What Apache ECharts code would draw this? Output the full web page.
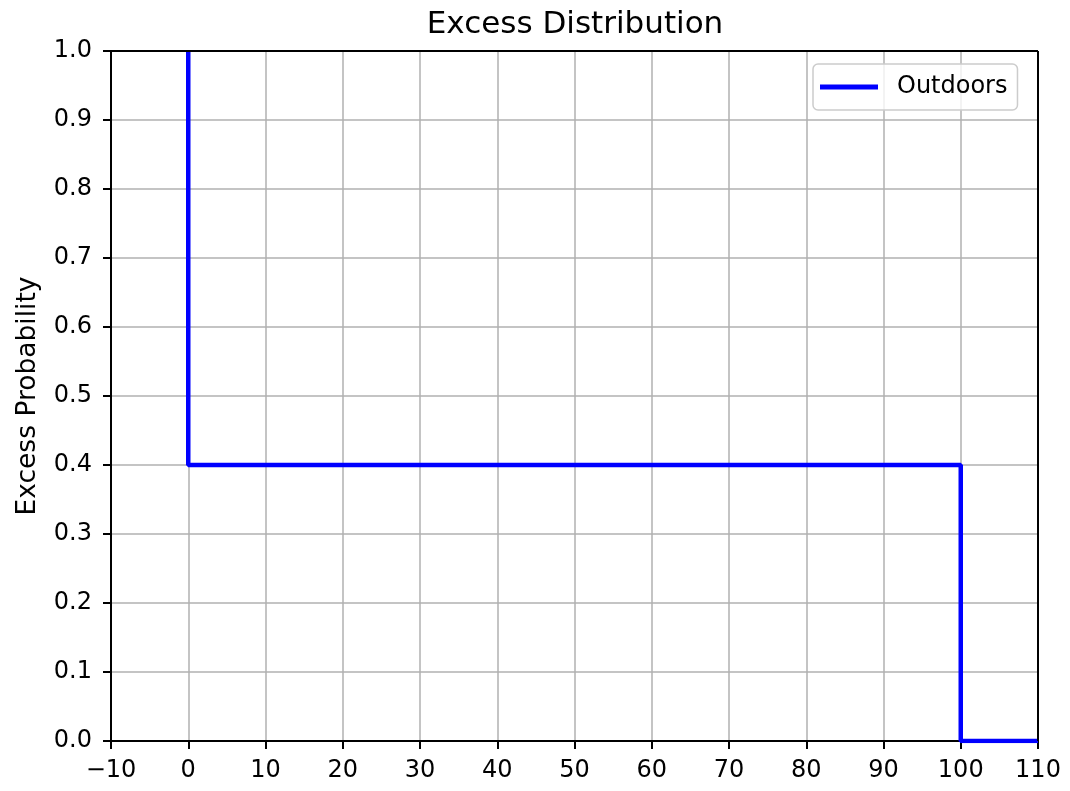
<!DOCTYPE html>
<html><head><meta charset="utf-8">
<script src="https://cdn.jsdelivr.net/npm/echarts@6/dist/echarts.min.js"></script>
<style>html,body{margin:0;padding:0;background:#fff}#c{width:1070px;height:791px}</style>
</head><body><div id="c"></div>
<script>
const xValues = [0, 0, 100, 100, 110];
const yValues = [1.0, 0.4, 0.4, 0.0, 0.0];
const seriesName = 'Outdoors';
const xTicks = [-10, 0, 10, 20, 30, 40, 50, 60, 70, 80, 90, 100, 110];
const yTicks = [0, 0.1, 0.2, 0.3, 0.4, 0.5, 0.6, 0.7, 0.8, 0.9, 1.0];

const font = 'DejaVu Sans';
const L = 111, R = 1038, T = 51, B = 741;
const chart = echarts.init(document.getElementById('c'));
chart.setOption({
  animation: false,
  backgroundColor: '#fff',
  title: { text: 'Excess Distribution', left: 570, top: 4, textAlign: 'center',
    textStyle: { fontFamily: font, fontSize: 31, fontWeight: 'normal', color: '#000' } },
  legend: {
    data: [seriesName], left: 813, top: 64,
    orient: 'vertical',
    padding: [11, 10, 11, 7],
    itemWidth: 58, itemHeight: 5, itemGap: 0,
    icon: 'rect',
    borderColor: '#cccccc', borderWidth: 1.5, borderRadius: 5,
    backgroundColor: 'rgba(255,255,255,0.8)',
    textStyle: { fontFamily: font, fontSize: 24, color: '#000', padding: [0, 0, 0, 14] }
  },
  grid: { left: L, right: 1070 - R, top: T, bottom: 791 - B, containLabel: false, outerBoundsMode: 'none' },
  xAxis: {
    type: 'value', min: -10, max: 110, interval: 10,
    axisLine: { show: true, onZero: false, lineStyle: { color: '#000', width: 2 } },
    axisTick: { show: true, inside: false, length: 8, lineStyle: { color: '#000', width: 2 } },
    axisLabel: { fontFamily: font, fontSize: 24, color: '#000', margin: 18,
      formatter: v => xTicks.includes(v) ? (v < 0 ? '\u2212' + Math.abs(v) : String(v)) : '' },
    splitLine: { show: true, lineStyle: { color: '#b0b0b0', width: 1.5 } }
  },
  yAxis: {
    type: 'value', min: 0, max: 1, interval: 0.1,
    name: 'Excess Probability', nameLocation: 'middle', nameGap: 69,
    nameTextStyle: { fontFamily: font, fontSize: 26.5, color: '#000' },
    axisLine: { show: true, onZero: false, lineStyle: { color: '#000', width: 2 } },
    axisTick: { show: true, inside: false, length: 8, lineStyle: { color: '#000', width: 2 } },
    axisLabel: { fontFamily: font, fontSize: 24, color: '#000', margin: 19,
      formatter: v => v.toFixed(1) },
    splitLine: { show: true, lineStyle: { color: '#b0b0b0', width: 1.5 } }
  },
  series: [{
    name: seriesName, type: 'line',
    data: xValues.map((x, i) => [x, yValues[i]]),
    showSymbol: false, symbol: 'none',
    lineStyle: { color: '#0000ff', width: 4.5 },
    itemStyle: { color: '#0000ff' },
    clip: true
  }],
  graphic: [
    { type: 'line', shape: { x1: L, y1: T, x2: R, y2: T }, style: { stroke: '#000', lineWidth: 2 }, z: 10 },
    { type: 'line', shape: { x1: R, y1: T, x2: R, y2: B }, style: { stroke: '#000', lineWidth: 2 }, z: 10 }
  ]
});
</script></body></html>
